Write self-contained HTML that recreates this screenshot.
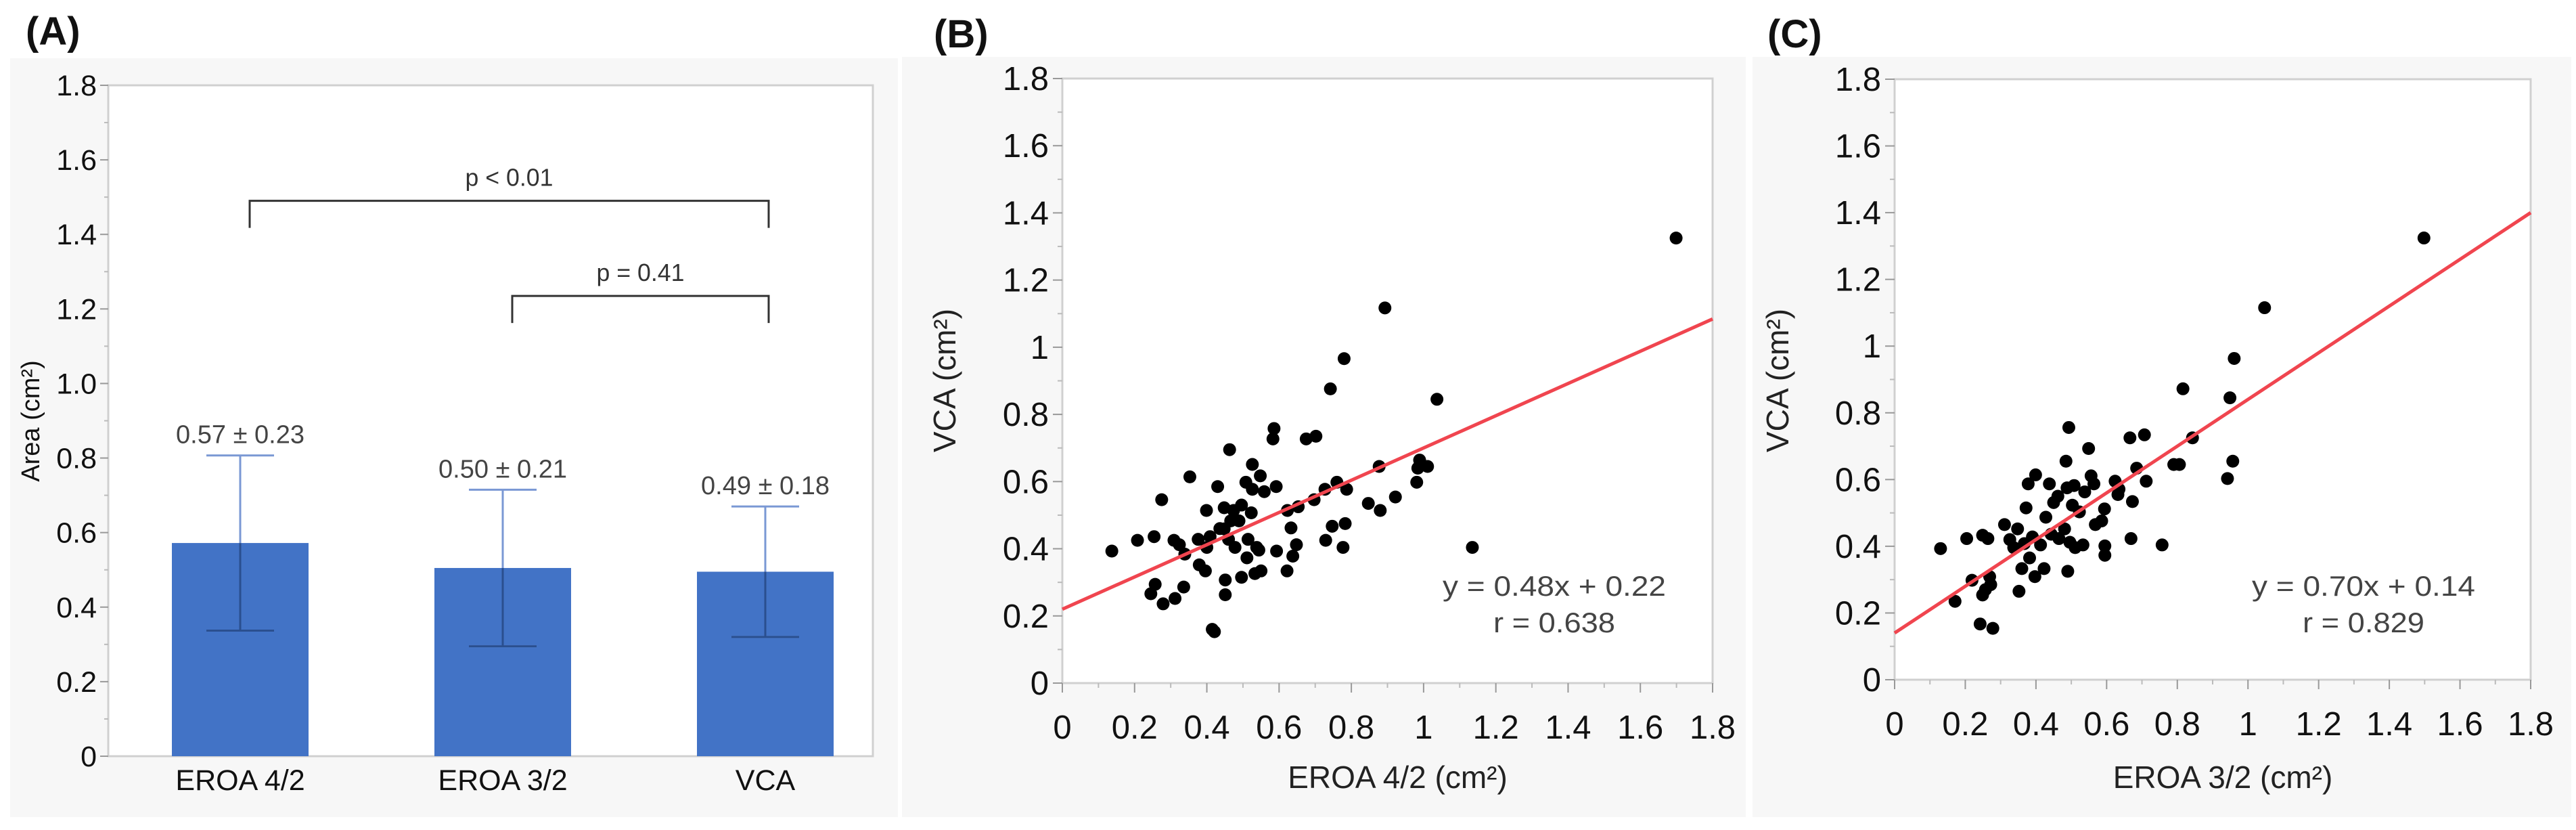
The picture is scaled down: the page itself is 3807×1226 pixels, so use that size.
<!DOCTYPE html>
<html><head><meta charset="utf-8">
<style>
html,body{margin:0;padding:0;background:#fff;}
svg{display:block;font-family:"Liberation Sans","Noto Sans CJK JP",sans-serif;}
</style></head>
<body>
<svg id="fig" width="3807" height="1226" viewBox="0 0 3807 1226" xmlns="http://www.w3.org/2000/svg">
<rect x="15" y="86" width="1312" height="1121" fill="#f7f7f7"/>
<rect x="1333" y="84" width="1247" height="1123" fill="#f7f7f7"/>
<rect x="2590" y="84" width="1210" height="1123" fill="#f7f7f7"/>
<text x="38" y="66" font-size="58" font-weight="bold" fill="#111">(A)</text>
<text x="1380" y="70" font-size="58" font-weight="bold" fill="#111">(B)</text>
<text x="2612" y="70" font-size="58" font-weight="bold" fill="#111">(C)</text>
<g id="ga"></g>
<g id="gb"></g>
<g id="gc"></g>
</svg>
<script>
const categories = ["EROA 4/2","EROA 3/2","VCA"];
const means = [0.572,0.505,0.495];
const sds = [0.235,0.21,0.175];
const meanLabels = ["0.57 ± 0.23","0.50 ± 0.21","0.49 ± 0.18"];
const yTicksA = [0,0.2,0.4,0.6,0.8,1.0,1.2,1.4,1.6,1.8];
const yTickLabelsA = ["0","0.2","0.4","0.6","0.8","1.0","1.2","1.4","1.6","1.8"];
const sigLabels = ["p < 0.01","p = 0.41"];
const sigHeights = [1.49,1.235];
const sigFrom = [0,1];
const sigTo = [2,2];

const bX = [0.137,0.208,0.254,0.275,0.257,0.245,0.279,0.309,0.312,0.336,0.339,0.324,0.353,0.376,0.379,0.396,0.399,0.40,0.409,0.430,0.448,0.448,0.451,0.451,0.463,0.460,0.415,0.421,0.474,0.478,0.489,0.496,0.508,0.511,0.514,0.523,0.526,0.526,0.533,0.538,0.544,0.548,0.550,0.559,0.583,0.586,0.592,0.593,0.622,0.623,0.633,0.638,0.648,0.653,0.675,0.697,0.702,0.727,0.729,0.742,0.747,0.760,0.777,0.780,0.783,0.787,0.847,0.877,0.880,0.893,0.922,0.981,0.984,0.989,1.011,1.037,1.135,1.699,0.466,0.496,0.436];
const bY = [0.393,0.425,0.436,0.546,0.294,0.266,0.236,0.425,0.252,0.286,0.384,0.412,0.614,0.428,0.352,0.334,0.514,0.404,0.436,0.585,0.522,0.459,0.307,0.263,0.695,0.428,0.160,0.153,0.514,0.404,0.483,0.315,0.598,0.373,0.428,0.507,0.651,0.577,0.326,0.404,0.396,0.617,0.334,0.570,0.727,0.758,0.585,0.393,0.334,0.514,0.462,0.378,0.412,0.525,0.727,0.546,0.735,0.577,0.425,0.876,0.467,0.598,0.404,0.966,0.475,0.577,0.535,0.645,0.514,1.117,0.554,0.598,0.640,0.664,0.645,0.845,0.404,1.325,0.483,0.530,0.46];
const cX = [0.130,0.171,0.204,0.219,0.242,0.278,0.249,0.264,0.249,0.257,0.269,0.272,0.311,0.326,0.337,0.348,0.352,0.360,0.367,0.372,0.378,0.382,0.39,0.397,0.399,0.413,0.423,0.428,0.438,0.443,0.450,0.462,0.465,0.481,0.485,0.488,0.490,0.493,0.496,0.503,0.508,0.511,0.523,0.533,0.538,0.549,0.556,0.564,0.568,0.586,0.594,0.595,0.595,0.624,0.632,0.635,0.666,0.669,0.673,0.685,0.707,0.712,0.757,0.790,0.806,0.816,0.843,0.942,0.949,0.957,0.961,1.047,1.498];
const cY = [0.393,0.235,0.423,0.298,0.167,0.154,0.433,0.423,0.254,0.270,0.309,0.285,0.465,0.420,0.396,0.452,0.265,0.333,0.408,0.515,0.587,0.365,0.428,0.309,0.614,0.404,0.333,0.487,0.587,0.436,0.531,0.550,0.423,0.452,0.655,0.575,0.325,0.756,0.412,0.523,0.582,0.396,0.503,0.404,0.563,0.693,0.611,0.587,0.465,0.476,0.512,0.401,0.373,0.595,0.555,0.571,0.725,0.423,0.534,0.634,0.734,0.595,0.404,0.645,0.645,0.872,0.725,0.603,0.845,0.655,0.963,1.115,1.324];
const scatterTicks = [0,0.2,0.4,0.6,0.8,1,1.2,1.4,1.6,1.8];
const scatterTickLabels = ["0","0.2","0.4","0.6","0.8","1","1.2","1.4","1.6","1.8"];
const fitB = [0.48,0.22];
const fitC = [0.70,0.14];

const NS="http://www.w3.org/2000/svg";
function mk(parent,tag,attrs,text){const e=document.createElementNS(NS,tag);for(const k in attrs)e.setAttribute(k,attrs[k]);if(text!==undefined)e.textContent=text;parent.appendChild(e);return e;}

// Panel A
(function(){
  const g=document.getElementById('ga');
  const L=160,R=1290,T=126,B=1117,max=1.8;
  const y=v=>B-(v/max)*(B-T);
  const xc=i=>355+388*i;
  let e=mk(g,'rect',{x:L,y:T,width:R-L,height:B-T,fill:'#fff',stroke:'#d0d0d0','stroke-width':3});
  
  
  for(let k=0;k<yTicksA.length;k++){
    const v=yTicksA[k];
    e=mk(g,'line',{x1:L-12,x2:L,y1:y(v),y2:y(v),stroke:'#999','stroke-width':2});
    
    
    if(k<yTicksA.length-1){
      e=mk(g,'line',{x1:L-6,x2:L,y1:y(v+0.1),y2:y(v+0.1),stroke:'#bbb','stroke-width':2});
      
      
    }
    e=mk(g,'text',{x:L-17,y:y(v)+15,'font-size':43,'text-anchor':'end',fill:'#111'},yTickLabelsA[k]);
    
    
  }
  e=mk(g,'text',{x:58,y:622,'font-size':38,'text-anchor':'middle',fill:'#111',transform:'rotate(-90 58 622)'},'Area (cm²)');
  
  
  const bw=202;
  for(let i=0;i<categories.length;i++){
    const cx=xc(i);
    e=mk(g,'rect',{x:cx-bw/2,y:y(means[i]),width:bw,height:B-y(means[i]),fill:'#4273c6'});
    
    
    const hi=y(means[i]+sds[i]),lo=y(means[i]-sds[i]);
    e=mk(g,'path',{d:`M${cx} ${hi}V${lo}M${cx-50} ${hi}H${cx+50}M${cx-50} ${lo}H${cx+50}`,stroke:'#7a98d4','stroke-width':3,fill:'none'});
    
    
    e=mk(g,'path',{d:`M${cx} ${y(means[i])}V${lo}M${cx-50} ${lo}H${cx+50}`,stroke:'#2a4f8f','stroke-width':3,fill:'none'});
    
    
    e=mk(g,'text',{x:cx,y:hi-18,'font-size':38,'text-anchor':'middle',fill:'#444',textLength:190,lengthAdjust:'spacingAndGlyphs'},meanLabels[i]);
    
    
    e=mk(g,'text',{x:cx,y:B+50,'font-size':43,'text-anchor':'middle',fill:'#111'},categories[i]);
    
    
  }
  for(let j=0;j<sigLabels.length;j++){
    const x1=xc(sigFrom[j])+14,x2=xc(sigTo[j])+5,yy=y(sigHeights[j]);
    e=mk(g,'path',{d:`M${x1} ${yy+40}V${yy}H${x2}V${yy+40}`,stroke:'#333','stroke-width':3,fill:'none'});
    
    
    e=mk(g,'text',{x:(x1+x2)/2,y:yy-22,'font-size':36,'text-anchor':'middle',fill:'#333',textLength:130,lengthAdjust:'spacingAndGlyphs'},sigLabels[j]);
    
    
  }
})();

function scatter(id,L,R,T,B,xs,ys,fit,xTitle,eqText,rText,eqX,ytx){
  const g=document.getElementById(id);
  const max=1.8;
  const X=v=>L+(v/max)*(R-L), Y=v=>B-(v/max)*(B-T);
  let e=mk(g,'rect',{x:L,y:T,width:R-L,height:B-T,fill:'#fff',stroke:'#d0d0d0','stroke-width':3});
  
  
  for(let k=0;k<scatterTicks.length;k++){
    const v=scatterTicks[k];
    e=mk(g,'line',{x1:L-14,x2:L,y1:Y(v),y2:Y(v),stroke:'#999','stroke-width':2});
    
    
    e=mk(g,'line',{x1:X(v),x2:X(v),y1:B,y2:B+14,stroke:'#999','stroke-width':2});
    
    
    if(k<scatterTicks.length-1){
      e=mk(g,'line',{x1:L-7,x2:L,y1:Y(v+0.1),y2:Y(v+0.1),stroke:'#bbb','stroke-width':2});
      
      
      e=mk(g,'line',{x1:X(v+0.1),x2:X(v+0.1),y1:B,y2:B+7,stroke:'#bbb','stroke-width':2});
      
      
    }
    e=mk(g,'text',{x:L-20,y:Y(v)+17,'font-size':49,'text-anchor':'end',fill:'#111'},scatterTickLabels[k]);
    
    
    e=mk(g,'text',{x:X(v),y:B+82,'font-size':49,'text-anchor':'middle',fill:'#111'},scatterTickLabels[k]);
    
    
  }
  e=mk(g,'text',{x:(L+R)/2+15,y:1164,'font-size':46,'text-anchor':'middle',fill:'#222'},xTitle);
  
  
  e=mk(g,'text',{x:ytx,y:562,'font-size':46,'text-anchor':'middle',fill:'#222',transform:`rotate(-90 ${ytx} 562)`},'VCA (cm²)');
  
  
  for(let i=0;i<xs.length;i++){
    e=mk(g,'circle',{cx:X(xs[i]),cy:Y(ys[i]),r:9.5,fill:'#000'});
    
    
  }
  e=mk(g,'line',{x1:X(0),y1:Y(fit[1]),x2:X(1.8),y2:Y(fit[1]+fit[0]*1.8),stroke:'#f0454f','stroke-width':5});
  
  
  e=mk(g,'text',{x:eqX,y:880,'font-size':42,'text-anchor':'middle',fill:'#444',textLength:330,lengthAdjust:'spacingAndGlyphs'},eqText);
  
  
  e=mk(g,'text',{x:eqX,y:934,'font-size':42,'text-anchor':'middle',fill:'#444',textLength:180,lengthAdjust:'spacingAndGlyphs'},rText);
  
  
}
scatter('gb',1570,2531,116,1009,bX,bY,fitB,'EROA 4/2 (cm²)','y = 0.48x + 0.22','r = 0.638',2297,1412);
scatter('gc',2800,3740,117,1004,cX,cY,fitC,'EROA 3/2 (cm²)','y = 0.70x + 0.14','r = 0.829',3493,2643);
</script>
</body></html>
